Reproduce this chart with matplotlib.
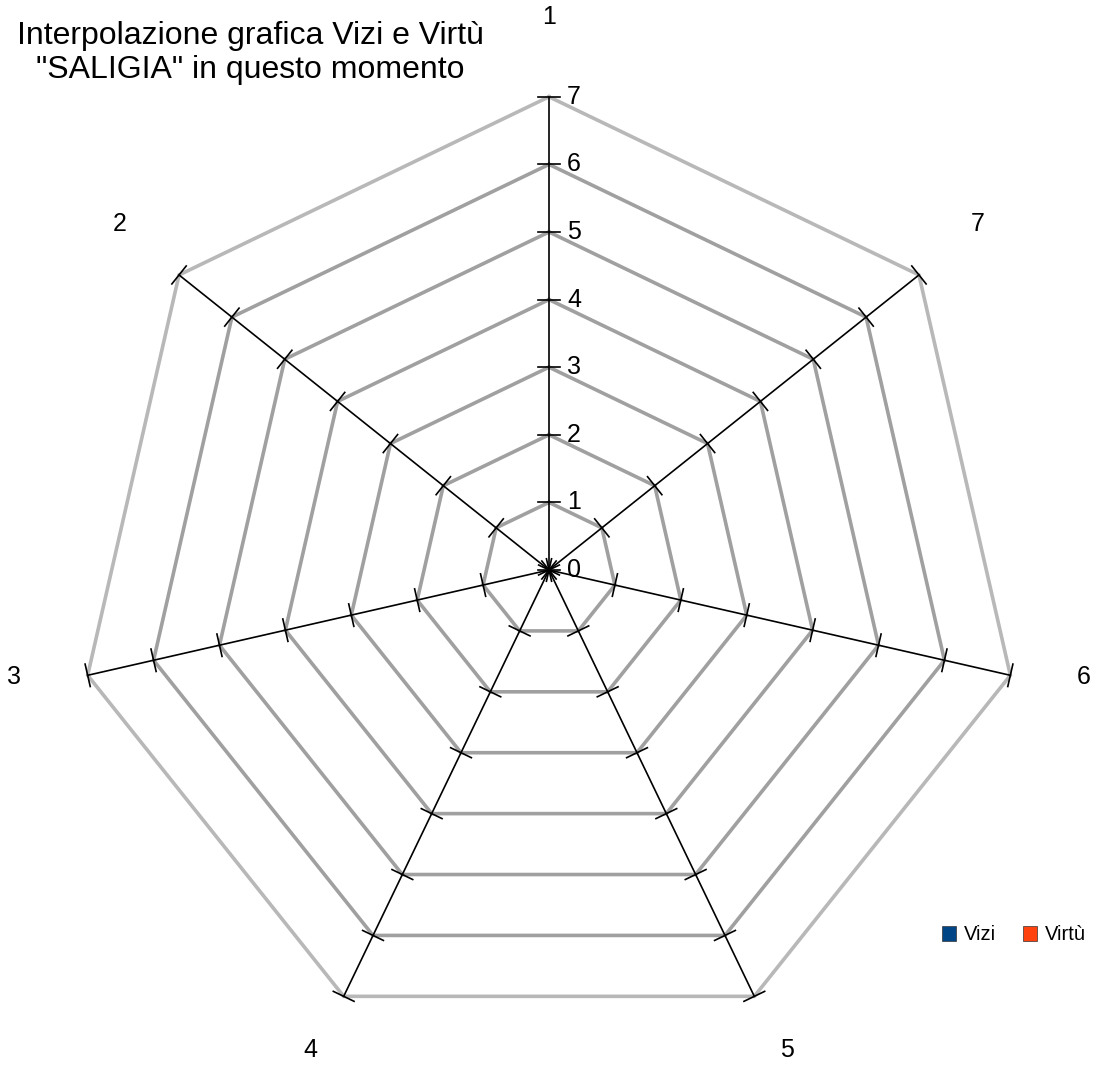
import numpy as np
import matplotlib.pyplot as plt
from matplotlib.patches import Patch

plt.rcParams['font.family'] = ['Liberation Sans', 'DejaVu Sans']

categories = ['1', '2', '3', '4', '5', '6', '7']
vizi = [0, 0, 0, 0, 0, 0, 0]
virtu = [0, 0, 0, 0, 0, 0, 0]
rings = [1, 2, 3, 4, 5, 6, 7]
tick_values = [0, 1, 2, 3, 4, 5, 6, 7]

n = len(categories)
angles = np.pi / 2 + np.arange(n) * 2 * np.pi / n
rmax = 7
px = 67.6  # pixels per unit

fig = plt.figure(figsize=(11.03, 10.92), dpi=100)
ax = fig.add_axes([0, 0, 1, 1])
ax.set_xlim(-549 / px, (1103 - 549) / px)
ax.set_ylim(-(1092 - 570) / px, 570 / px)
ax.set_aspect('equal')
ax.axis('off')


def polar_xy(r, a):
    return np.asarray(r) * np.cos(a), np.asarray(r) * np.sin(a)


# grid polygons
closed = np.append(angles, angles[0])
for r in rings:
    x, y = polar_xy(r, closed)
    col = '#b8b8b8' if r == rmax else '#a0a0a0'
    ax.plot(x, y, color=col, lw=2.6, zorder=1, solid_joinstyle='miter')

# spokes with tick marks
tick_half = 0.17
for a in angles:
    x, y = polar_xy([0, rmax], a)
    ax.plot(x, y, color='black', lw=1.2, zorder=2)
    for t in tick_values:
        cx, cy = polar_xy(t, a)
        dx, dy = -np.sin(a) * tick_half, np.cos(a) * tick_half
        ax.plot([cx - dx, cx + dx], [cy - dy, cy + dy], color='black', lw=1.2, zorder=2)

# value labels along the first axis
for t in tick_values:
    ax.text(18 / px, t, str(t), fontsize=18, ha='left', va='center', zorder=3)

# category labels
for a, c in zip(angles, categories):
    x, y = polar_xy(8.12, a)
    y += 0.22 if np.sin(a) < 0 else 0.06
    ax.text(x, y, c, fontsize=18, ha='center', va='center')

# series
for vals, col in [(vizi, '#004586'), (virtu, '#ff420e')]:
    x, y = polar_xy(np.append(vals, vals[0]), closed)
    ax.plot(x, y, color=col, lw=2, zorder=0)

fig.text(250 / 1103, 1 - 53 / 1092,
         'Interpolazione grafica Vizi e Virtù\n"SALIGIA" in questo momento',
         ha='center', va='center', fontsize=23, linespacing=1.2)

handles = [Patch(facecolor='#004586', edgecolor='#333333', lw=0.5),
           Patch(facecolor='#ff420e', edgecolor='#333333', lw=0.5)]
fig.legend(handles, ['Vizi', 'Virtù'], loc='center',
           bbox_to_anchor=(1014 / 1103, 1 - 935 / 1092), ncol=2, frameon=False,
           fontsize=14.5, handlelength=0.7, handleheight=0.7, handletextpad=0.4,
           columnspacing=1.3)

fig.savefig('out.png', dpi=100)
